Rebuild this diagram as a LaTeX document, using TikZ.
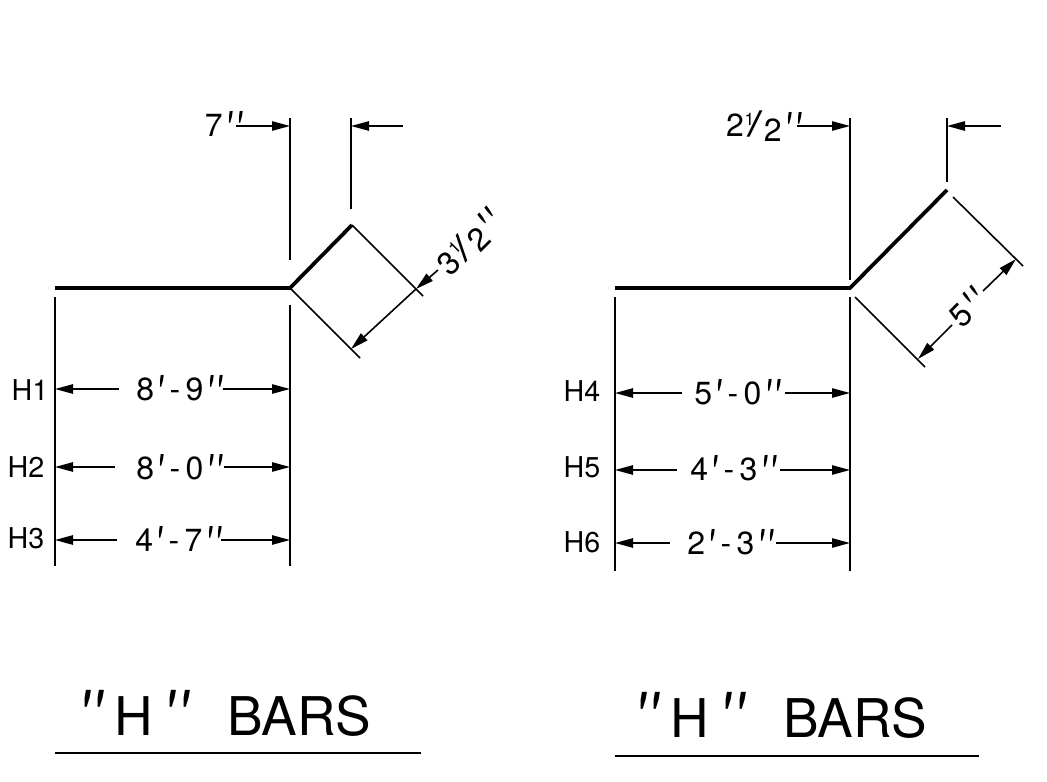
\documentclass[tikz,border=0pt]{standalone}
\usepackage{fontspec}
\setmainfont{TeX Gyre Heros}
\usetikzlibrary{arrows.meta}

\begin{document}
\begin{tikzpicture}[x=0.75pt,y=-0.75pt]
		\tikzset{textstyle/.style={inner sep=0pt,font=\fontsize{24}{24}\selectfont}}
		\tikzset{markstyle/.style={inner sep=0pt,font=\fontsize{21.5}{24}\selectfont}}
		\tikzset{titlestyle/.style={inner sep=0pt,font=\fontsize{40}{40}\selectfont}}
		\tikzset{thinedge/.style={-,line width=1.2pt}}
		\tikzset{baredge/.style={-,line width=2.8pt}}
		\tikzset{dimedge/.style={-{Triangle[length=13.5pt,width=7pt]},line width=1.2pt}}
		
		\useasboundingbox (0,0) rectangle (1047,782);
		
		\newcommand\inchMark{\kern.08em\smash{\raisebox{-.3em}{\scalebox{1}[1.5]{\textit{\textquotesingle\kern.12em\textquotesingle}}}}}
		\newcommand\footMark{\kern.08em\smash{\raisebox{-.3em}{\scalebox{1}[1.5]{\textit{\textquotesingle}}}}}
		\newcommand\titleMark{\smash{\raisebox{-.07em}{\scalebox{1}[1.3]{\textit{\textquotesingle\kern.06em\textquotesingle}}}}}
		\newcommand\halfMark % stacked 1/2
		{%
			\kern1pt\rlap{\kern-.5pt\raisebox{8.7pt}{\fontsize{13}{13}\selectfont 1}}%
			\kern1.5pt\smash{\scalebox{1.7}[1.1]{/}}%
			\kern1pt\smash{\raisebox{-3.7pt}{2}}%
		}
		
		\newcommand\drawLabel[4] % {x} {y} {label} {name}
		{
			\node[textstyle] at (#1, #2) (#4) {#3};
		}
		
		\newcommand\drawMark[4] % {x} {y} {label} {name}
		{
			\node[markstyle] at (#1, #2) (#4) {#3};
		}
		
		\newcommand\drawRow[6] % {xleft} {xright} {y} {left end} {right start} {name}
		{
			\coordinate (#6a) at (#1, #3);
			\coordinate (#6b) at (#4, #3);
			\coordinate (#6c) at (#5, #3);
			\coordinate (#6d) at (#2, #3);
			\draw[dimedge] (#6b) to (#6a);
			\draw[dimedge] (#6c) to (#6d);
		}
		
		% left bar
		\coordinate (a0) at (55,288);
		\coordinate (a1) at (290,288);
		\coordinate (a2) at (352,225);
		\coordinate (a3) at (416,289);
		\coordinate (a4) at (423,296);
		\coordinate (a5) at (351,349);
		\coordinate (a6) at (360,358);
		\coordinate (a7) at (438,270);
		
		\draw[baredge] (a0) to (a1) to (a2);
		\draw[thinedge]
		(a2) to (a4)
		(a1) to (a6);
		
		\coordinate (e1) at (290,118);
		\coordinate (e2) at (290,260);
		\coordinate (e3) at (290,305);
		\coordinate (e4) at (290,566);
		\coordinate (e5) at (55,297);
		\coordinate (e6) at (55,566);
		\coordinate (e7) at (351,118);
		\coordinate (e8) at (351,209);
		
		\draw[thinedge]
		(e1) to (e2)
		(e3) to (e4)
		(e5) to (e6)
		(e7) to (e8);
		
		\coordinate (t1) at (236,126);
		\coordinate (t2) at (290,126);
		\coordinate (t3) at (403,126);
		\coordinate (t4) at (351,126);
		\draw[dimedge] (t1) to (t2);
		\draw[dimedge] (t3) to (t4);
		
		\draw[dimedge] (a7) to (a3);
		\draw[dimedge] (a3) to (a5);
		
		\drawRow{55}{290}{389}{119}{223}{r1}
		\drawRow{55}{290}{467}{115}{224}{r2}
		\drawRow{55}{290}{540}{117}{221}{r3}
		
		\drawLabel{224}{125}{7\inchMark}{seven}
		\node[textstyle,rotate=45] at (469,242) (threehalf) {3\halfMark\inchMark};
		
		\drawMark{30}{390}{H1}{h1}
		\drawMark{26}{467}{H2}{h2}
		\drawMark{26}{538}{H3}{h3}
		\drawLabel{180}{389}{8\footMark\,-\,9\inchMark}{d1}
		\drawLabel{180}{468}{8\footMark\,-\,0\inchMark}{d2}
		\drawLabel{179}{540}{4\footMark\,-\,7\inchMark}{d3}
		
		% right bar
		\coordinate (b0) at (615,288);
		\coordinate (b1) at (850,288);
		\coordinate (b2) at (947,190);
		\coordinate (b3) at (953,197);
		\coordinate (b4) at (1023,266);
		\coordinate (b5) at (855,297);
		\coordinate (b6) at (925,367);
		\coordinate (b7) at (918,359);
		\coordinate (b8) at (952,325);
		\coordinate (b9) at (983,291);
		\coordinate (b10) at (1016,259);
		
		\draw[baredge] (b0) to (b1) to (b2);
		\draw[thinedge]
		(b3) to (b4)
		(b5) to (b6);
		
		\coordinate (f1) at (850,118);
		\coordinate (f2) at (850,280);
		\coordinate (f3) at (850,297);
		\coordinate (f4) at (850,571);
		\coordinate (f5) at (615,297);
		\coordinate (f6) at (615,571);
		\coordinate (f7) at (947,118);
		\coordinate (f8) at (947,182);
		
		\draw[thinedge]
		(f1) to (f2)
		(f3) to (f4)
		(f5) to (f6)
		(f7) to (f8);
		
		\coordinate (u1) at (797,126);
		\coordinate (u2) at (850,126);
		\coordinate (u3) at (1001,126);
		\coordinate (u4) at (947,126);
		\draw[dimedge] (u1) to (u2);
		\draw[dimedge] (u3) to (u4);
		
		\draw[dimedge] (b8) to (b7);
		\draw[dimedge] (b9) to (b10);
		
		\drawRow{615}{850}{393}{682}{785}{r4}
		\drawRow{615}{850}{470}{677}{780}{r5}
		\drawRow{615}{850}{543}{670}{776}{r6}
		
		\drawLabel{764}{125}{2\halfMark\inchMark}{twohalf}
		\node[textstyle,rotate=45] at (968,308) (five) {5\inchMark};
		
		\drawMark{582}{391}{H4}{h4}
		\drawMark{582}{467}{H5}{h5}
		\drawMark{582}{542}{H6}{h6}
		\drawLabel{738}{393}{5\footMark\,-\,0\inchMark}{d4}
		\drawLabel{734}{469}{4\footMark\,-\,3\inchMark}{d5}
		\drawLabel{731}{543}{2\footMark\,-\,3\inchMark}{d6}
		
		% titles
		\node[titlestyle] at (225,716) (title1) {\titleMark\kern.18em H\kern.2em\titleMark\kern.7em BARS};
		\node[titlestyle] at (781,718) (title2) {\titleMark\kern.18em H\kern.2em\titleMark\kern.7em BARS};
		
		\coordinate (l1) at (55,753);
		\coordinate (l2) at (421,753);
		\coordinate (l3) at (615,756);
		\coordinate (l4) at (979,756);
		\draw[line width=1.8pt] (l1) to (l2);
		\draw[line width=1.8pt] (l3) to (l4);
		
\end{tikzpicture}
\end{document}
